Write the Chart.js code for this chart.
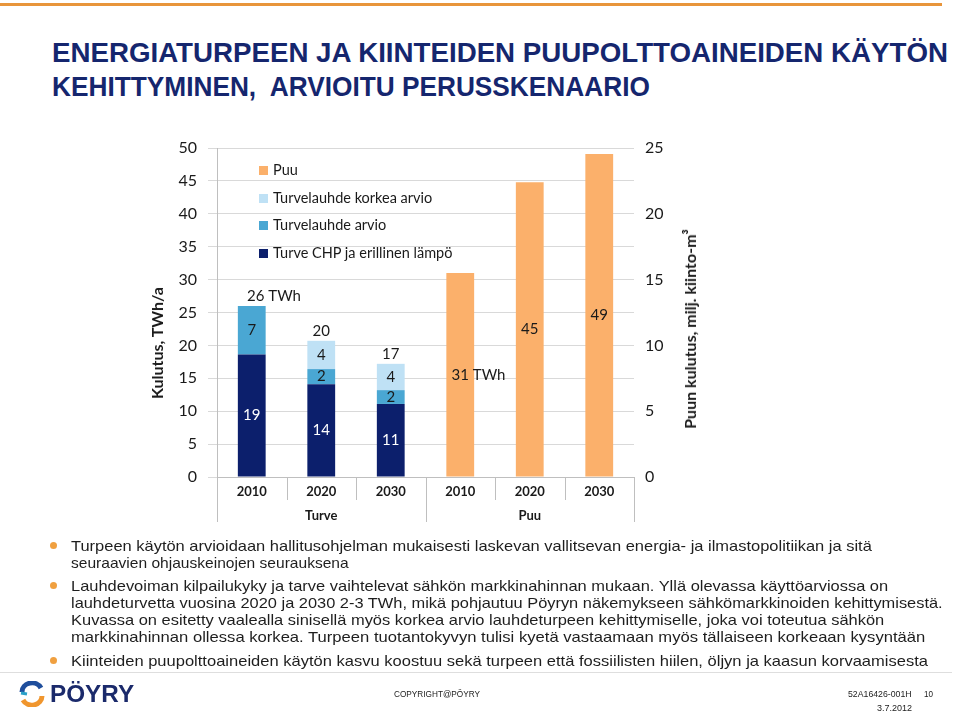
<!DOCTYPE html>
<html><head><meta charset="utf-8">
<script src="https://cdn.jsdelivr.net/npm/chart.js@4"></script>
<style>
html,body{margin:0;padding:0;background:#fff;}
body{width:960px;height:713px;position:relative;overflow:hidden;font-family:"Liberation Sans",Arial,sans-serif;}
#c{position:absolute;left:0;top:0;}
.topline{position:absolute;left:0;top:3px;width:942px;height:3px;background:#E8953B;}
.fit{position:absolute;white-space:nowrap;transform-origin:0 50%;}
.title{color:#15266e;font-weight:bold;font-size:28px;line-height:34px;height:34px;}
.bl{font-size:15px;color:#1e1e1e;line-height:17px;height:17px;}
.dot{position:absolute;left:50px;width:7px;height:7px;border-radius:50%;background:#F0A040;}
.leg{position:absolute;font-family:Lato,sans-serif;font-size:14.5px;color:#1a1a1a;white-space:nowrap;line-height:18px;height:18px;}
.leg i{display:inline-block;width:9px;height:9px;margin-right:5px;vertical-align:0px;}
.axt{position:absolute;font-family:Lato,sans-serif;font-weight:bold;font-size:16px;color:#1a1a1a;white-space:nowrap;line-height:20px;transform:translate(-50%,-50%) rotate(-90deg);}
.foot{position:absolute;left:0;top:672px;width:952px;height:1px;background:#dedede;}
.sm{font-size:9px;color:#222;line-height:11px;height:11px;}
</style>
</head><body>
<div class="topline"></div>
<div class="fit title" style="left:52px;top:36px" data-w="896">ENERGIATURPEEN JA KIINTEIDEN PUUPOLTTOAINEIDEN KÄYTÖN</div>
<div class="fit title" style="left:52px;top:70px" data-w="598">KEHITTYMINEN,&nbsp; ARVIOITU PERUSSKENAARIO</div>

<canvas id="c" width="960" height="713"></canvas>
<div id="legend"></div>
<div class="axt" style="left:157px;top:343px">Kulutus, TWh/a</div>
<div class="axt" style="left:690px;top:329px">Puun kulutus, milj. kiinto-m³</div>

<div class="dot" style="top:542px"></div>
<div class="dot" style="top:582px"></div>
<div class="dot" style="top:657px"></div>
<div class="fit bl" style="left:71px;top:537px" data-w="801">Turpeen käytön arvioidaan hallitusohjelman mukaisesti laskevan vallitsevan energia- ja ilmastopolitiikan ja sitä</div>
<div class="fit bl" style="left:71px;top:554px" data-w="278">seuraavien ohjauskeinojen seurauksena</div>
<div class="fit bl" style="left:71px;top:577px" data-w="817">Lauhdevoiman kilpailukyky ja tarve vaihtelevat sähkön markkinahinnan mukaan. Yllä olevassa käyttöarviossa on</div>
<div class="fit bl" style="left:71px;top:594px" data-w="872">lauhdeturvetta vuosina 2020 ja 2030 2-3 TWh, mikä pohjautuu Pöyryn näkemykseen sähkömarkkinoiden kehittymisestä.</div>
<div class="fit bl" style="left:71px;top:611px" data-w="813">Kuvassa on esitetty vaalealla sinisellä myös korkea arvio lauhdeturpeen kehittymiselle, joka voi toteutua sähkön</div>
<div class="fit bl" style="left:71px;top:628px" data-w="854">markkinahinnan ollessa korkea. Turpeen tuotantokyvyn tulisi kyetä vastaamaan myös tällaiseen korkeaan kysyntään</div>
<div class="fit bl" style="left:71px;top:652px" data-w="857">Kiinteiden puupolttoaineiden käytön kasvu koostuu sekä turpeen että fossiilisten hiilen, öljyn ja kaasun korvaamisesta</div>

<div class="foot"></div>
<svg style="position:absolute;left:18px;top:681px" width="28" height="26" viewBox="0 0 28 26">
  <path d="M4 11 A10 9 0 0 1 23 7" fill="none" stroke="#1f4e9c" stroke-width="5"/>
  <path d="M24 15 A10 9 0 0 1 5 19" fill="none" stroke="#F0962E" stroke-width="5"/>
  <path d="M3 12 L9 13" stroke="#2aa0c8" stroke-width="3"/>
</svg>
<div class="fit" style="left:50px;top:681px;font-weight:bold;font-size:24px;line-height:26px;color:#1b2a6b" data-w="84">PÖYRY</div>
<div class="fit sm" style="left:394px;top:689px" data-w="86">COPYRIGHT@PÖYRY</div>
<div class="fit sm" style="left:848px;top:689px" data-w="64">52A16426-001H</div>
<div class="fit sm" style="left:924px;top:689px" data-w="9">10</div>
<div class="fit sm" style="left:877px;top:703px" data-w="35">3.7.2012</div>

<script>
// ---- data ----
const years = ['2010','2020','2030','2010','2020','2030'];
const groups = ['Turve','Puu'];
const turveChp = [18.6, 14.1, 11.1, null, null, null];
const turvelauhdeArvio = [7.4, 2.3, 2.1, null, null, null];
const turvelauhdeKorkea = [null, 4.3, 4.0, null, null, null];
const puu = [null, null, null, 31.0, 44.8, 49.1];
const chpLabels = ['19','14','11'];
const arvioLabels = ['7','2','2'];
const korkeaLabels = ['','4','4'];
const turveTotals = ['26 TWh','20','17'];
const puuLabels = ['31 TWh','45','49'];
const leftTicks = [0,5,10,15,20,25,30,35,40,45,50];
const rightTicks = [0,5,10,15,20,25];
const seriesNames = ['Turve CHP ja erillinen lämpö','Turvelauhde arvio','Turvelauhde korkea arvio','Puu'];
const seriesColors = ['#0c1f6c','#4aa7d3','#bfe1f5','#fbb06b'];

// fit texts
document.querySelectorAll('.fit').forEach(el=>{
  const w = el.scrollWidth; const t = +el.dataset.w;
  el.style.transform = 'scaleX(' + (t/w) + ')';
});

// legend (reverse order)
const leg = document.getElementById('legend');
[3,2,1,0].forEach((k,i)=>{
  const d = document.createElement('div');
  d.className='leg';
  d.style.left='259px';
  d.style.top=(161 + i*27.7)+'px';
  d.innerHTML='<i style="background:'+seriesColors[k]+'"></i>'+seriesNames[k];
  leg.appendChild(d);
});

const labelFont = '15px Lato, sans-serif';
const labelsPlugin = {
  id:'valLabels',
  afterDatasetsDraw(chart){
    const ctx = chart.ctx;
    ctx.save();
    ctx.font = labelFont;
    ctx.textBaseline = 'middle';
    const mid = (el)=>(el.y+el.base)/2;
    const segs = [[0,chpLabels,'#ffffff'],[1,arvioLabels,'#1a1a1a'],[2,korkeaLabels,'#1a1a1a']];
    segs.forEach(([di,labs,col])=>{
      const meta = chart.getDatasetMeta(di);
      labs.forEach((t,i)=>{
        if(!t) return;
        const el = meta.data[i];
        ctx.fillStyle = col; ctx.textAlign='center';
        ctx.fillText(t, el.x, mid(el));
      });
    });
    // totals above turve bars
    ctx.fillStyle='#1a1a1a';
    turveTotals.forEach((t,i)=>{
      let topEl = null;
      [0,1,2].forEach(di=>{const el=chart.getDatasetMeta(di).data[i]; const v=chart.data.datasets[di].data[i]; if(v!=null && (!topEl || el.y<topEl.y)) topEl=el;});
      const num = t.split(' ')[0];
      const nw = ctx.measureText(num).width;
      ctx.textAlign='left';
      ctx.fillText(t, topEl.x - nw/2 + (t.length>3?4:0), topEl.y - 10);
    });
    const pm = chart.getDatasetMeta(3);
    puuLabels.forEach((t,i)=>{
      const el = pm.data[i+3];
      const num = t.split(' ')[0];
      const nw = ctx.measureText(num).width;
      ctx.textAlign='left';
      ctx.fillText(t, el.x - nw/2, mid(el));
    });
    ctx.restore();
  }
};

const sepPlugin = {
  id:'sep',
  afterDraw(chart){
    const x = chart.scales.x; const ctx = chart.ctx;
    const half = (x.getPixelForValue(1)-x.getPixelForValue(0))/2;
    const b = x.top;
    ctx.save();
    ctx.strokeStyle='#bfbfbf'; ctx.lineWidth=1;
    for(let i=0;i<=years.length;i++){
      const px = Math.round((i<years.length? x.getPixelForValue(i)-half : x.getPixelForValue(years.length-1)+half))+0.5;
      const long = (i%3===0);
      ctx.beginPath(); ctx.moveTo(px,b); ctx.lineTo(px,b+(long?45:23)); ctx.stroke();
    }
    ctx.restore();
  }
};

const xLabels = years.map((y,i)=>[y, i===1?groups[0]:(i===4?groups[1]:'')]);

new Chart(document.getElementById('c'),{
  type:'bar',
  data:{
    labels:xLabels,
    datasets:[
      {label:seriesNames[0],data:turveChp,backgroundColor:seriesColors[0]},
      {label:seriesNames[1],data:turvelauhdeArvio,backgroundColor:seriesColors[1]},
      {label:seriesNames[2],data:turvelauhdeKorkea,backgroundColor:seriesColors[2]},
      {label:seriesNames[3],data:puu,backgroundColor:seriesColors[3]}
    ].map(d=>Object.assign(d,{barPercentage:0.8,categoryPercentage:0.5,borderWidth:0}))
  },
  options:{
    responsive:false,animation:false,
    layout:{padding:{left:140,right:240,top:148,bottom:173}},
    plugins:{legend:{display:false},tooltip:{enabled:false}},
    scales:{
      x:{stacked:true,
        grid:{display:false,drawTicks:false},
        border:{display:true,color:'#bfbfbf'},
        ticks:{padding:3,color:'#1a1a1a',font:{family:'Lato',weight:'bold',size:13,lineHeight:'24px'},maxRotation:0,autoSkip:false},
        afterFit(s){s.height=63;}
      },
      y:{stacked:true,position:'left',min:0,max:50,
        afterBuildTicks(s){s.ticks=leftTicks.map(v=>({value:v}));},
        grid:{color:'#d9d9d9',tickLength:9,drawTicks:true},
        border:{display:true,color:'#bfbfbf'},
        ticks:{padding:11,color:'#1a1a1a',font:{family:'Lato',size:16}},
        afterFit(s){s.width=77;}
      },
      y1:{position:'right',min:0,max:25,
        afterBuildTicks(s){s.ticks=rightTicks.map(v=>({value:v}));},
        grid:{display:false,drawTicks:false},
        border:{display:false},
        ticks:{padding:11,color:'#1a1a1a',font:{family:'Lato',size:16}},
        afterFit(s){s.width=86;}
      }
    }
  },
  plugins:[labelsPlugin,sepPlugin]
});
</script>
</body></html>
